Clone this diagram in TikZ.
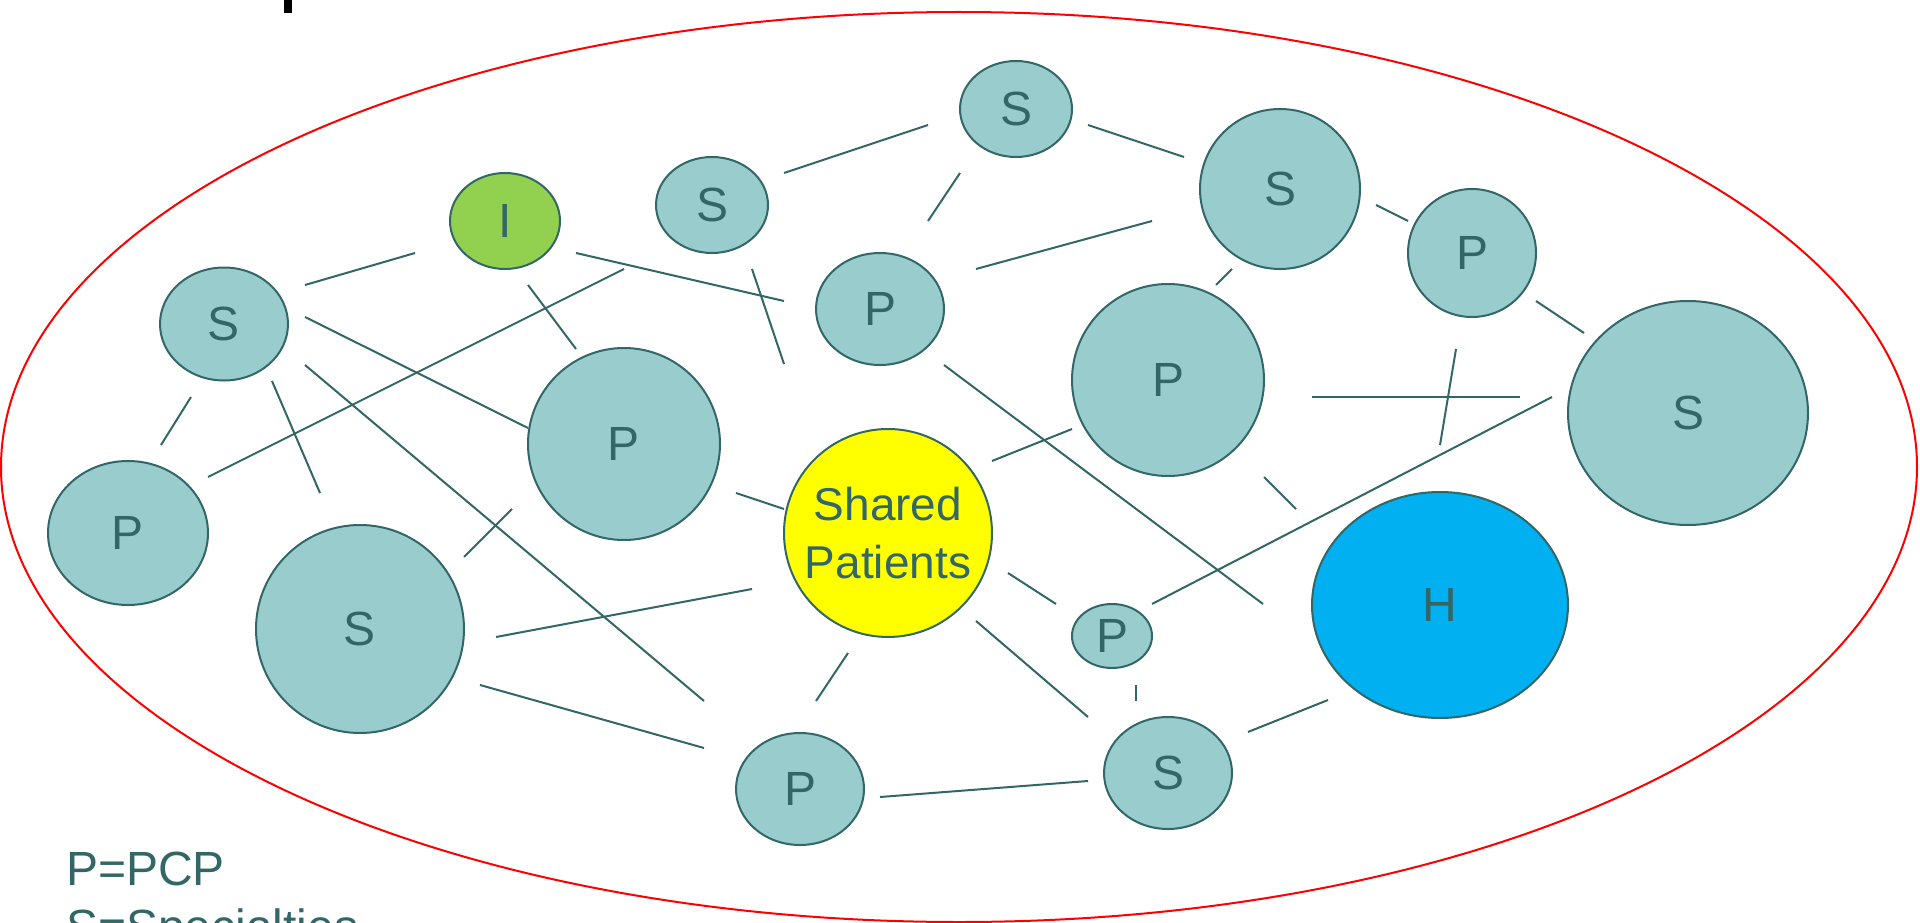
\documentclass[tikz,border=0pt]{standalone}
\usepackage{fontspec}
\setmainfont{Liberation Sans}
\usetikzlibrary{shapes.geometric}
\definecolor{bubfill}{HTML}{99CCCC}
\definecolor{dk}{HTML}{336666}
\definecolor{grn}{HTML}{92D050}
\definecolor{blu}{HTML}{00B0F0}
\definecolor{yel}{HTML}{FFFF00}
\definecolor{rd}{HTML}{FF0000}
\begin{document}
\begin{tikzpicture}[x=1pt,y=-1pt,
  bub/.style 2 args={ellipse, draw=dk, line width=2pt, fill=bubfill, inner sep=0pt,
    minimum width=#1pt, minimum height=#2pt, text=dk, font=\fontsize{48}{58}\selectfont},
  conn/.style={draw=dk, line width=2pt},
  legend/.style={anchor=base west, inner sep=0pt, text=dk, font=\fontsize{48}{58}\selectfont},
  sharedtext/.style={align=center, text=dk, inner sep=0pt, font=\fontsize{46}{58}\selectfont}]
\useasboundingbox (0,0) rectangle (1920,923);
\clip (0,0) rectangle (1920,923);
\fill[white] (0,0) rectangle (1920,923);
% title fragment
\fill[black] (284,0) rectangle (292,13);
% outer red ellipse
\draw[rd, line width=2pt] (959,467) ellipse [x radius=958pt, y radius=455pt];
% connector segments
\foreach \a/\b/\c/\d in {305/285/415/253, 576/253/784/301, 528/285/576/349, 208/477/624/269,
  305/317/528/428, 305/365/704/701, 272/381/320/493, 191/397/161/445, 464/557/512/509,
  496/637/752/589, 480/685/704/748, 736/493/784/509, 752/269/784/364, 784/173/928/125,
  960/173/928/221, 1088/125/1184/157, 976/269/1152/221, 944/365/1263/604, 992/461/1072/429,
  1216/285/1232/269, 1376/205/1408/221, 1536/301/1584/333, 1312/397/1520/397,
  1456/349/1440/445, 1152/604/1552/397, 1264/477/1296/509, 1008/573/1056/604,
  976/621/1088/717, 848/653/816/701, 1136/685/1136/701, 880/797/1088/781, 1248/732/1328/700}
  \draw[conn] (\a,\b) -- (\c,\d);
% nodes
\node[bub={128}{113}] (SL) at (224,324) {S};
\node[bub={110}{96}, fill=grn] (I) at (505,221) {I};
\node[bub={112}{96}] (SLT) at (712,205) {S};
\node[bub={112}{96}] (ST) at (1016,109) {S};
\node[bub={160}{160}] (SRT) at (1280,189) {S};
\node[bub={128}{128}] (PFR) at (1472,253) {P};
\node[bub={128}{112}] (PC) at (880,309) {P};
\node[bub={192}{192}] (PRM) at (1168,380) {P};
\node[bub={240}{224}] (SBR) at (1688,413) {S};
\node[bub={192}{192}] (PML) at (624,444) {P};
\node[bub={160}{144}] (PFL) at (128,533) {P};
\node[bub={208}{208}, fill=yel, label={[sharedtext]center:Shared\\Patients}] (SH) at (888,533) {};
\node[bub={208}{208}] (SLB) at (360,629) {S};
\node[bub={256}{226}, fill=blu] (H) at (1440,605) {H};
\node[bub={80}{64}] (PS) at (1112,636) {P};
\node[bub={128}{112}] (PB) at (800,789) {P};
\node[bub={128}{112}] (SB) at (1168,773) {S};
% legend
\node[legend] (leg1) at (66,885) {P=PCP};
\node[legend] (leg2) at (66,943) {S=Specialties};
\end{tikzpicture}
\end{document}
